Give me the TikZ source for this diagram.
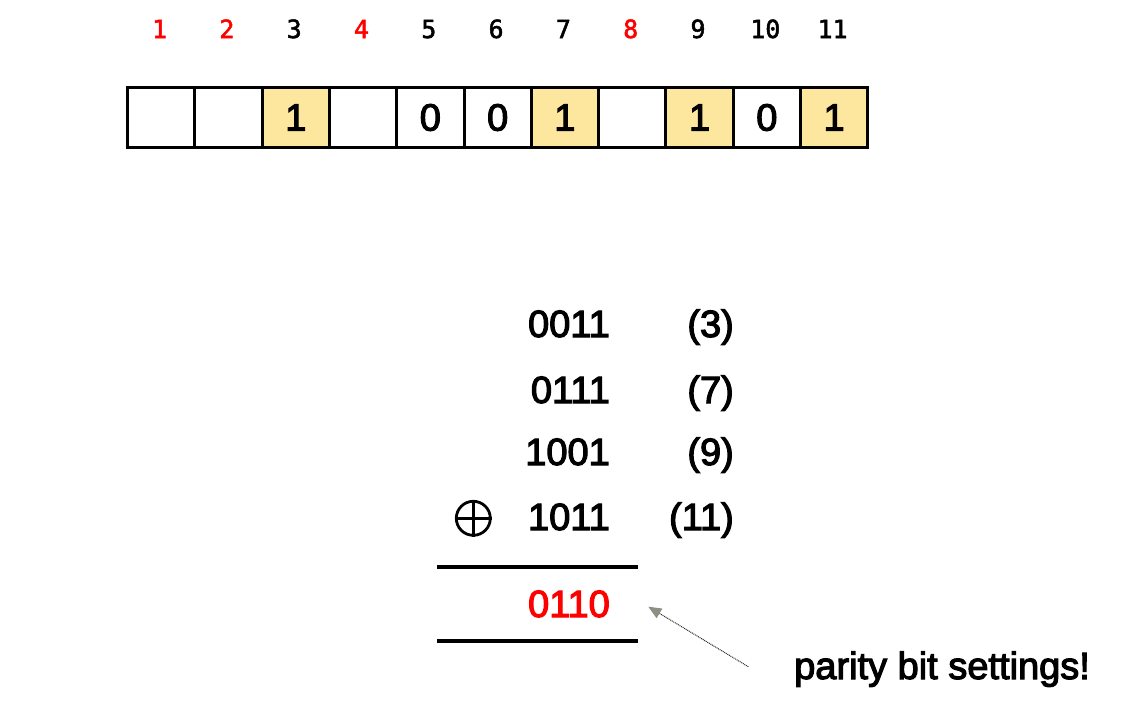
\documentclass[tikz,border=0pt]{standalone}
\usepackage{fontspec}
\setmainfont{Liberation Sans}
\newfontfamily\heavy{Liberation Sans}[UprightFeatures={FakeBold=3}]
\newfontfamily\labmono{DejaVu Sans Mono}[UprightFeatures={FakeBold=2}]
\usetikzlibrary{arrows.meta}
\definecolor{cellyellow}{HTML}{FDE69D}
\definecolor{arrowgray}{HTML}{8E8E82}
\tikzset{
  cellbox/.style={draw=black, line width=3pt, minimum width=67.3pt, minimum height=60pt, inner sep=0pt, anchor=north west, font=\heavy\fontsize{38}{44}\selectfont},
  hit/.style={cellbox, fill=cellyellow},
  poslab/.style={inner sep=0pt, anchor=base, font=\labmono\fontsize{25}{30}\selectfont},
  parlab/.style={poslab, text=red},
  bigtext/.style={inner sep=0pt, font=\heavy\fontsize{38}{44}\selectfont},
  binrow/.style={bigtext, anchor=base east},
  sumline/.style={line width=3.2pt},
  note/.style={draw=black!80, line width=1pt, dash pattern=on 1pt off 0.8pt, -{Triangle[length=13pt, width=11pt, color=arrowgray, fill=arrowgray]}}
}
\begin{document}
\begin{tikzpicture}[x=1pt, y=-1pt]
\useasboundingbox (0,0) rectangle (1145,712);
% cells
\node[cellbox] (c1) at (126,86) {};
\node[cellbox] (c2) at (193.3,86) {};
\node[hit] (c3) at (260.6,86) {1};
\node[cellbox] (c4) at (327.9,86) {};
\node[cellbox] (c5) at (395.2,86) {0};
\node[cellbox] (c6) at (462.5,86) {0};
\node[hit] (c7) at (529.8,86) {1};
\node[cellbox] (c8) at (597.1,86) {};
\node[hit] (c9) at (664.4,86) {1};
\node[cellbox] (c10) at (731.7,86) {0};
\node[hit] (c11) at (799,86) {1};
% position labels
\node[parlab] (l1) at (159.6,38) {1};
\node[parlab] (l2) at (226.9,38) {2};
\node[poslab] (l3) at (294.2,38) {3};
\node[parlab] (l4) at (361.5,38) {4};
\node[poslab] (l5) at (428.8,38) {5};
\node[poslab] (l6) at (496.1,38) {6};
\node[poslab] (l7) at (563.4,38) {7};
\node[parlab] (l8) at (630.7,38) {8};
\node[poslab] (l9) at (698,38) {9};
\node[poslab] (l10) at (765.3,38) {10};
\node[poslab] (l11) at (832.6,38) {11};
% xor table
\node[binrow] (b3) at (610,337) {0011};
\node[binrow] (b7) at (610,403) {0111};
\node[binrow] (b9) at (610,465) {1001};
\node[binrow] (b11) at (610,530) {1011};
\node[binrow] (p3) at (734,337) {(3)};
\node[binrow] (p7) at (734,403) {(7)};
\node[binrow] (p9) at (734,465) {(9)};
\node[binrow] (p11) at (734,530) {(11)};
\node[binrow, text=red] (res) at (610,617) {0110};
% xor symbol
\node[draw=black, line width=2.8pt, circle, minimum size=34pt, inner sep=0pt] (xor) at (473.3,518.3) {};
\draw[line width=2.8pt] (xor.north) -- (xor.south) (xor.west) -- (xor.east);
% sum lines
\coordinate (s1a) at (437,567); \coordinate (s1b) at (638,567);
\coordinate (s2a) at (437,641); \coordinate (s2b) at (638,641);
\draw[sumline] (s1a) -- (s1b);
\draw[sumline] (s2a) -- (s2b);
% note
\node[bigtext, anchor=base west] (note) at (794,679) {parity bit settings!};
\coordinate (tail) at (748.3,666.7);
\coordinate (tip) at (648.3,606.7);
\draw[note] (tail) -- (tip);
\end{tikzpicture}
\end{document}
